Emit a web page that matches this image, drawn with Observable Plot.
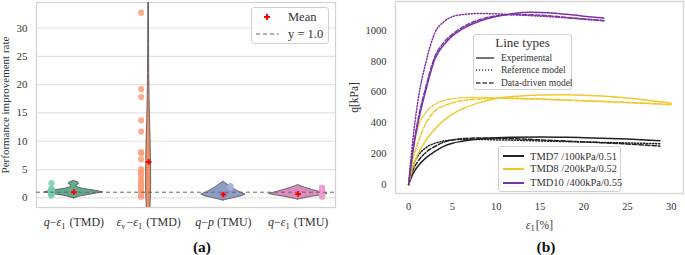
<!DOCTYPE html>
<html><head><meta charset="utf-8">
<script src="https://cdn.jsdelivr.net/npm/d3@7"></script>
<script src="https://cdn.jsdelivr.net/npm/@observablehq/plot@0.6"></script>
<style>
body{margin:0;background:#fff;font-family:"Liberation Serif",serif;color:#333}
#wrap{position:relative;width:685px;height:255px;overflow:hidden}
.abs{position:absolute;white-space:nowrap}
.box{position:absolute;box-sizing:border-box;border:1px solid #d0d0d0;border-radius:3px;background:rgba(255,255,255,0.85)}
</style></head>
<body><div id="wrap"></div>
<script>
// ---------- Panel (a) data ----------
const catLabels = ["q−ε1 (TMD)", "εv−ε1 (TMD)", "q−p (TMU)", "q−ε1 (TMU)"];
const yTicksA = [0, 5, 10, 15, 20, 25, 30];
// violin outlines: [value, half-width in category units]
const violinQe1TMD = [[-0.1,0],[0.3,0.1],[0.7,0.28],[1.0,0.39],[1.3,0.27],[1.6,0.12],[1.9,0.04],[2.2,0.035],[2.45,0.07],[2.7,0.06],[2.9,0.02],[3.0,0]];
const violinEvTMD = [[-6,0.005],[-3,0.02],[0,0.03],[2,0.034],[5,0.033],[8,0.03],[11,0.025],[14,0.018],[18,0.012],[22,0.008],[27,0.006],[32,0.005],[37,0.004],[40,0]];
const violinQpTMU = [[-0.47,0],[0,0.15],[0.3,0.25],[0.58,0.295],[1.0,0.22],[1.5,0.15],[2.0,0.09],[2.5,0.04],[2.85,0]];
const violinQe1TMU = [[-0.3,0],[0.2,0.18],[0.5,0.33],[0.7,0.39],[1.0,0.3],[1.4,0.19],[1.8,0.09],[2.1,0.03],[2.27,0]];
// strip points
const ptsQe1TMD = [2.6, 1.6, 1.45, 1.3, 1.2, 1.1, 1.0, 0.9, 0.8, 0.7, 0.6, 0.45];
const ptsEvTMD = [32.7, 19.2, 17.8, 13.7, 11.7, 8.1, 7.9, 6.8, 5.1, 4.6, 4.3, 3.9, 3.3, 2.8, 2.5, 2.3, 2.0, 1.6, 1.2, 0.8, 0.4, 0.2];
const ptsQpTMU = [2.1, 1.8];
const ptsQe1TMU = [1.8, 1.6, 1.4, 1.2, 1.0, 0.8, 0.6, 0.45, 0.3, 0.2];
const meanValues = [1.0, 6.35, 0.58, 0.7];
const refLine = 1.0;

// ---------- Panel (b) data ----------
const xTicksB = [0, 5, 10, 15, 20, 25, 30];
const yTicksB = [0, 200, 400, 600, 800, 1000];
const tmd7Strain = [0,0.5,1,2,3,4,5,6,8,10,12,15,18,20,25,28.7];
const tmd7Exp = [0,70,115,175,215,248,268,280,295,303,307,309,307,304,295,285];
const tmd7Ref = [0,120,180,240,268,282,290,293,293,290,288,283,279,276,270,265];
const tmd7DD  = [0,95,145,210,247,275,290,297,302,300,297,290,282,277,263,250];
const tmd8Strain = [0,0.5,1,2,3,4,5,6,8,10,12,15,18,20,25,30];
const tmd8Exp = [0,120,190,290,360,415,457,488,530,558,572,582,583,580,562,528];
const tmd8Ref = [0,240,360,470,520,545,558,563,565,562,559,553,547,543,532,520];
const tmd8DD  = [0,170,260,400,478,510,530,543,555,560,559,555,549,545,533,518];
const tmd10Strain = [0,0.5,1,2,3,4,5,6,8,10,12,14,16,18,20,22.3];
const tmd10Exp = [0,220,380,620,815,905,965,1005,1058,1090,1110,1118,1115,1105,1093,1080];
const tmd10Ref = [0,300,520,800,985,1055,1090,1102,1110,1108,1102,1096,1090,1082,1073,1062];
const tmd10DD  = [0,230,400,640,830,920,975,1015,1068,1095,1103,1102,1095,1085,1075,1065];
const seriesNames = ["TMD7 /100kPa/0.51", "TMD8 /200kPa/0.52", "TMD10 /400kPa/0.55"];
const lineTypeNames = ["Experimental", "Reference model", "Data-driven model"];

// ---------- styles ----------
const violinFill = ["#62ab8f", "#ec8f69", "#8c9ec8", "#dc8bbf"];
const pointFill = ["#77cdb0", "#fd9d7b", "#a3b2d8", "#ec9ccf"];
const stripOffset = [-0.30, -0.10, 0.095, 0.32];
const seriesColor = ["#222222", "#efc92c", "#7b35a3"];
const dashFor = [null, "1.2,1.8", "4.5,2"];

const NS = "http://www.w3.org/2000/svg";
function richText(t, str, subSize) {
  t.textContent = "";
  let i = 0;
  while (i < str.length) {
    const c = str[i];
    if (c === "q" || c === "p" || c === "ε") {
      const it = document.createElementNS(NS, "tspan");
      it.setAttribute("font-style", "italic"); it.textContent = c; t.appendChild(it);
      if (c === "ε" && i + 1 < str.length && /[1v]/.test(str[i + 1])) {
        const s = document.createElementNS(NS, "tspan");
        s.setAttribute("font-size", subSize); s.setAttribute("dy", "2.5"); s.textContent = str[i + 1];
        t.appendChild(s);
        const r = document.createElementNS(NS, "tspan");
        r.setAttribute("dy", "-2.5"); r.textContent = "\u200A"; t.appendChild(r);
        i += 2; continue;
      }
      i++; continue;
    }
    let j = i; let buf = "";
    while (j < str.length && !["q","p","ε"].includes(str[j])) { buf += str[j]; j++; }
    const n = document.createElementNS(NS, "tspan"); n.textContent = buf; t.appendChild(n);
    i = j;
  }
}

const wrap = document.getElementById("wrap");

// ---------- Panel (a) ----------
const violins = [violinQe1TMD, violinEvTMD, violinQpTMU, violinQe1TMU];
const strips = [ptsQe1TMD, ptsEvTMD, ptsQpTMU, ptsQe1TMU];
const marksA = [
  Plot.gridY({ticks: yTicksA, stroke: "#e3e3e3", strokeOpacity: 1, strokeWidth: 1.2}),
  Plot.frame({stroke: "#d2d2d2", strokeWidth: 1.2}),
  ...violins.map((shape, i) => Plot.areaX(shape.map(([v, hw]) => ({v, lo: i - hw, hi: i + hw})),
      {y: "v", x1: "lo", x2: "hi", fill: violinFill[i], stroke: "#5a5a5a", strokeWidth: 0.9, clip: true})),
  ...strips.map((vals, i) => Plot.dot(vals.map(v => ({x: i + stripOffset[i], v})),
      {x: "x", y: "v", r: 3.1, fill: pointFill[i], fillOpacity: 0.85})),
  Plot.ruleY([refLine], {stroke: "#666", strokeWidth: 1, strokeDasharray: "4,3"}),
  Plot.dot(meanValues.map((m, i) => ({i, m})), {x: "i", y: "m", symbol: "plus", r: 2, stroke: "red", strokeWidth: 2}),
  Plot.axisX({ticks: [0, 1, 2, 3], tickFormat: i => catLabels[i], tickSize: 0, tickPadding: 10, fontSize: 12, label: null}),
  Plot.axisY({ticks: yTicksA, tickSize: 0, tickPadding: 9, fontSize: 11, tickFormat: d => String(d),
      label: "Performance improvement rate", labelAnchor: "center", labelOffset: 35.5, labelArrow: "none"})
];
const plotA = Plot.plot({
  width: 340, height: 232,
  marginLeft: 36, marginRight: 5, marginTop: 2, marginBottom: 25,
  x: {domain: [-0.5, 3.5]},
  y: {domain: [-1.7, 34.5]},
  style: {fontFamily: "Liberation Serif", color: "#333", background: "transparent", overflow: "visible"},
  marks: marksA
});
plotA.style.position = "absolute"; plotA.style.left = "0px"; plotA.style.top = "0px";
wrap.appendChild(plotA);
plotA.querySelectorAll('g[aria-label="x-axis tick label"] text').forEach(t => richText(t, t.textContent, "8.5"));

// ---------- Panel (b) ----------
const seriesB = [
  {s: tmd7Strain, vals: [tmd7Exp, tmd7Ref, tmd7DD]},
  {s: tmd8Strain, vals: [tmd8Exp, tmd8Ref, tmd8DD]},
  {s: tmd10Strain, vals: [tmd10Exp, tmd10Ref, tmd10DD]}
];
const marksB = [Plot.frame({stroke: "#d8d8d8", strokeWidth: 1.5})];
seriesB.forEach((ser, k) => {
  ser.vals.forEach((vals, t) => {
    marksB.push(Plot.line(ser.s.map((s, j) => [s, vals[j]]),
      {stroke: seriesColor[k], strokeWidth: 1.5, strokeDasharray: dashFor[t], curve: "monotone-x"}));
  });
});
marksB.push(
  Plot.axisX({ticks: xTicksB, tickSize: 0, tickPadding: 9, fontSize: 10.5, tickFormat: d => String(d),
    label: "ε1[%]", labelAnchor: "center", labelOffset: 35, labelArrow: "none"}),
  Plot.axisY({ticks: yTicksB, tickSize: 0, tickPadding: 9, fontSize: 10.5, tickFormat: d => String(d),
    label: "q[kPa]", labelAnchor: "center", labelOffset: 45.75, labelArrow: "none"})
);
const plotB = Plot.plot({
  width: 345, height: 232,
  marginLeft: 55, marginRight: 2, marginTop: 1, marginBottom: 39,
  x: {domain: [-1.5, 31.4]},
  y: {domain: [-58, 1188]},
  style: {fontFamily: "Liberation Serif", color: "#333", background: "transparent", overflow: "visible"},
  marks: marksB
});
plotB.style.position = "absolute"; plotB.style.left = "340px"; plotB.style.top = "0px";
wrap.appendChild(plotB);
plotB.querySelectorAll('g[aria-label="x-axis label"] text').forEach(t => { t.setAttribute("font-size", "11.5"); richText(t, t.textContent.replace(/\s/g, ""), "8.5"); });
plotB.querySelectorAll('g[aria-label="y-axis label"] text').forEach(t => t.setAttribute("font-size", "11.5"));

// ---------- HTML legends & captions ----------
function div(css, parent, text) {
  const d = document.createElement("div");
  d.style.cssText = css; if (text != null) d.textContent = text; parent.appendChild(d); return d;
}
function swatch(parent, left, top, w, color, dash, sw) {
  const s = document.createElementNS(NS, "svg");
  s.setAttribute("width", w); s.setAttribute("height", 6);
  s.style.cssText = `position:absolute;left:${left}px;top:${top - 3}px;overflow:visible`;
  const l = document.createElementNS(NS, "line");
  l.setAttribute("x1", 0); l.setAttribute("x2", w); l.setAttribute("y1", 3); l.setAttribute("y2", 3);
  l.setAttribute("stroke", color); l.setAttribute("stroke-width", sw);
  if (dash) l.setAttribute("stroke-dasharray", dash);
  s.appendChild(l); parent.appendChild(s);
}
// legend (a)
const legA = div("left:251px;top:7px;width:78px;height:37px", wrap); legA.className = "box";
{
  const s = document.createElementNS(NS, "svg");
  s.setAttribute("width", 8); s.setAttribute("height", 8);
  s.style.cssText = "position:absolute;left:11px;top:5px";
  const p = document.createElementNS(NS, "path");
  p.setAttribute("d", "M4,1V7M1,4H7"); p.setAttribute("stroke", "red"); p.setAttribute("stroke-width", 2);
  s.appendChild(p); legA.appendChild(s);
  div("left:36px;top:2px;font-size:12.5px;line-height:14px", legA, "Mean").className = "abs";
  swatch(legA, 4, 26, 23, "#666", "4,3", 1);
  div("left:36px;top:19px;font-size:12.5px;line-height:14px", legA, "y = 1.0").className = "abs";
}
// legend (b) line types
const legB1 = div("left:473px;top:34px;width:99px;height:56px", wrap); legB1.className = "box";
div("left:0;top:1px;width:97px;text-align:center;font-size:13px;line-height:14px", legB1, "Line types").className = "abs";
lineTypeNames.forEach((name, t) => {
  const cy = [22.5, 35, 47.5][t];
  swatch(legB1, 2, cy, 18, "#444", dashFor[t], 1.5);
  div(`left:27px;top:${cy - 6}px;font-size:9.5px;line-height:12px`, legB1, name).className = "abs";
});
// legend (b) series
const legB2 = div("left:498px;top:146px;width:123px;height:46px", wrap); legB2.className = "box";
seriesNames.forEach((name, k) => {
  const cy = [9, 21.5, 35.5][k];
  swatch(legB2, 3.5, cy, 21, seriesColor[k], null, 2);
  div(`left:31px;top:${cy - 6.5}px;font-size:10.5px;line-height:13px`, legB2, name).className = "abs";
});
// captions
div("left:172px;top:238px;width:60px;text-align:center;font-size:15.5px;font-weight:bold;line-height:17px;color:#111", wrap, "(a)").className = "abs";
div("left:516px;top:238px;width:60px;text-align:center;font-size:15.5px;font-weight:bold;line-height:17px;color:#111", wrap, "(b)").className = "abs";
</script></body></html>
